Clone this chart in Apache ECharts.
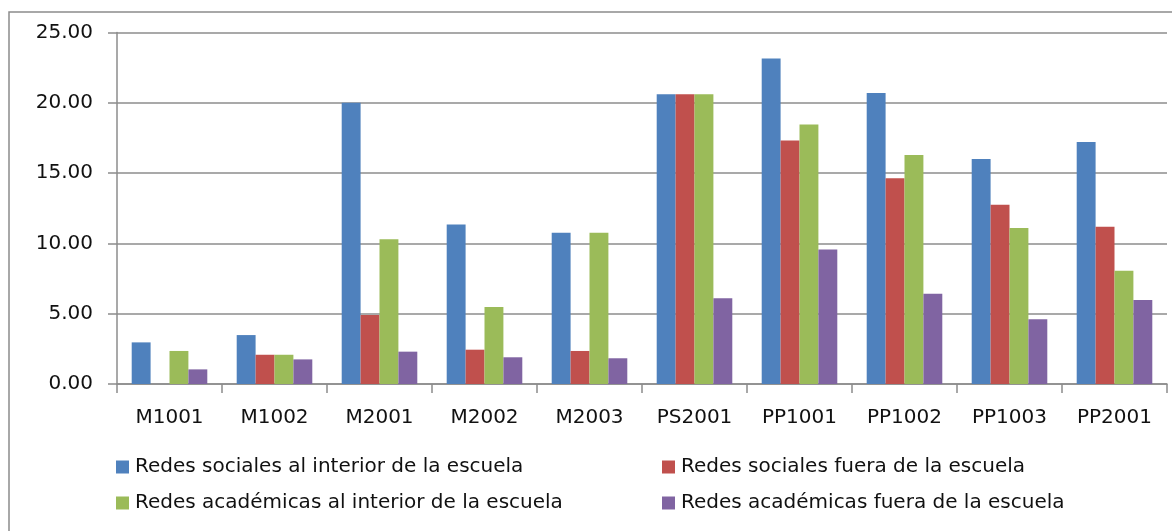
<!DOCTYPE html>
<html>
<head>
<meta charset="utf-8">
<script src="https://cdn.jsdelivr.net/npm/echarts@6/dist/echarts.min.js"></script>
<style>
  html, body { margin: 0; padding: 0; background: #fff; }
  #chart { width: 1172px; height: 531px; }
</style>
</head>
<body>
<div id="chart"></div>
<script>
// Course codes along the x axis
const categories = ['M1001', 'M1002', 'M2001', 'M2002', 'M2003', 'PS2001', 'PP1001', 'PP1002', 'PP1003', 'PP2001'];

// Series names
const seriesNames = [
  'Redes sociales al interior de la escuela',
  'Redes sociales fuera de la escuela',
  'Redes académicas al interior de la escuela',
  'Redes académicas fuera de la escuela'
];

// Values per series (percent)
const socialInside   = [2.96, 3.48, 20.00, 11.35, 10.75, 20.61, 23.15, 20.70, 16.01, 17.22];
const socialOutside  = [0.00, 2.08, 4.90, 2.44, 2.35, 20.61, 17.32, 14.64, 12.75, 11.18];
const academicInside = [2.35, 2.08, 10.30, 5.47, 10.75, 20.61, 18.46, 16.28, 11.09, 8.05];
const academicOutside= [1.04, 1.75, 2.30, 1.90, 1.83, 6.09, 9.57, 6.42, 4.60, 5.97];

const colors = ['#4F81BD', '#C0504D', '#9BBB59', '#8064A2'];
const seriesData = [socialInside, socialOutside, academicInside, academicOutside];

const FONT = '"DejaVu Sans", sans-serif';
const FS = 20;
const chart = echarts.init(document.getElementById('chart'), null, { renderer: 'canvas' });

// One legend block per entry so the two columns line up
const legendPos = [
  { left: 116, top: 457 },
  { left: 662, top: 457 },
  { left: 116, top: 493 },
  { left: 662, top: 493 }
];

chart.setOption({
  animation: false,
  backgroundColor: '#fff',
  graphic: [{
    type: 'rect',
    shape: { x: 9, y: 12, width: 1200, height: 560 },
    style: { fill: 'none', stroke: '#8c8c8c', lineWidth: 1.5 },
    silent: true,
    z: -1
  }],
  grid: { left: 117, right: 5, top: 32.5, bottom: 147, containLabel: false },
  legend: legendPos.map((p, i) => ({
    left: p.left,
    top: p.top,
    padding: 0,
    data: [seriesNames[i]],
    itemWidth: 13,
    itemHeight: 13,
    icon: 'rect',
    itemGap: 6,
    textStyle: { fontFamily: FONT, fontSize: FS, color: '#111', padding: [0, 0, 0, 1] }
  })),
  xAxis: {
    type: 'category',
    data: categories,
    axisLine: { lineStyle: { color: '#8c8c8c', width: 1.5 } },
    axisTick: { show: true, length: 9, lineStyle: { color: '#8c8c8c', width: 1.5 } },
    axisLabel: { fontFamily: FONT, fontSize: FS, color: '#111', margin: 24 }
  },
  yAxis: {
    type: 'value',
    min: 0,
    max: 25,
    interval: 5,
    axisLine: { show: true, lineStyle: { color: '#8c8c8c', width: 1.5 } },
    axisTick: { show: true, length: 9, lineStyle: { color: '#8c8c8c', width: 1.5 } },
    splitLine: { lineStyle: { color: '#8c8c8c', width: 1.5 } },
    axisLabel: {
      fontFamily: FONT, fontSize: FS, color: '#111', margin: 24,
      formatter: v => v.toFixed(2)
    }
  },
  series: seriesNames.map((name, i) => ({
    name,
    type: 'bar',
    data: seriesData[i],
    barGap: '0%',
    barCategoryGap: '28%',
    itemStyle: { color: colors[i] }
  }))
});
</script>
</body>
</html>
